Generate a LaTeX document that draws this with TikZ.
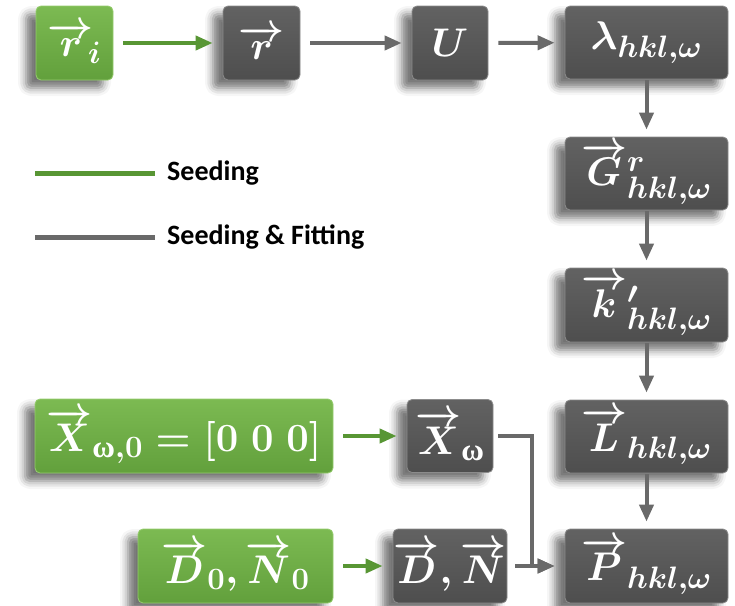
\RequirePackage{fix-cm}
\documentclass[tikz,border=0pt]{standalone}
\usepackage{fontspec}
\usepackage{amsmath}
\DeclareMathSizes{40}{40}{31}{25}
\newfontfamily\legfont{Carlito}
\newfontfamily\grkfont{Liberation Serif}
\usetikzlibrary{arrows.meta,shadows.blur}
\definecolor{gtop}{RGB}{124,186,82}
\definecolor{gbot}{RGB}{98,160,60}
\definecolor{gedge}{RGB}{150,205,110}
\definecolor{dtop}{RGB}{98,98,98}
\definecolor{dbot}{RGB}{78,78,78}
\definecolor{dedge}{RGB}{140,140,140}
\definecolor{arrgreen}{RGB}{88,150,52}
\definecolor{arrgray}{RGB}{105,105,105}
\newcommand{\upom}{\text{\grkfont\bfseries ω}}
\tikzset{
  base/.style={rounded corners=5pt, text=white, inner sep=0pt, line width=0.8pt,
    font=\fontsize{40}{44}\selectfont\boldmath,
    blur shadow={shadow xshift=-10pt, shadow yshift=-8pt, shadow blur radius=8pt, shadow opacity=55}},
  gbox/.style={base, draw=gedge, top color=gtop, bottom color=gbot},
  dbox/.style={base, draw=dedge, top color=dtop, bottom color=dbot},
  garrow/.style={line width=4pt, draw=arrgreen, -{Triangle[length=17pt,width=14pt]}},
  darrow/.style={line width=4pt, draw=arrgray, -{Triangle[length=17pt,width=14pt]}},
  hgap/.style={shorten <=10pt, shorten >=10pt},
  vgap/.style={shorten <=1pt, shorten >=7pt},
  legline/.style={line width=5pt},
  legtext/.style={anchor=west, inner sep=0pt, font=\legfont\bfseries\fontsize{28}{30}\selectfont}
}
\begin{document}
\begin{tikzpicture}[x=1pt, y=-1pt]
\useasboundingbox (0,0) rectangle (735,605);
% top row
\node[gbox, minimum width=77pt, minimum height=74pt] (ri) at (74.5,43) {$\overrightarrow{r}_{\!i}$};
\node[dbox, minimum width=77pt, minimum height=74pt] (r) at (261.5,43) {$\overrightarrow{r}$};
\node[dbox, minimum width=76pt, minimum height=74pt] (U) at (450,43) {$U$};
\node[dbox, minimum width=163pt, minimum height=73pt] (lam) at (646.5,42.5) {$\lambda_{hkl,\omega}$};
% right column
\node[dbox, minimum width=163pt, minimum height=73pt] (G) at (646.5,173.5) {$\overrightarrow{G}^{r}_{hkl,\omega}$};
\node[dbox, minimum width=163pt, minimum height=74pt] (k) at (646.5,305) {$\overrightarrow{k}'_{hkl,\omega}$};
\node[dbox, minimum width=163pt, minimum height=73pt] (L) at (646.5,436.5) {$\overrightarrow{L}_{hkl,\omega}$};
\node[dbox, minimum width=163pt, minimum height=74pt] (P) at (646.5,566) {$\overrightarrow{P}_{hkl,\omega}$};
% bottom left
\node[gbox, minimum width=298pt, minimum height=74pt] (X0) at (184,436) {$\overrightarrow{X}_{\upom,\mathbf{0}}=[\mathbf{0}\;\mathbf{0}\;\mathbf{0}]$};
\node[dbox, minimum width=86pt, minimum height=73pt] (Xw) at (450,436) {$\overrightarrow{X}_{\upom}$};
\node[gbox, minimum width=195pt, minimum height=74pt] (D0) at (235.5,566) {$\overrightarrow{D}_{\mathbf{0}},\overrightarrow{N}_{\mathbf{0}}$};
\node[dbox, minimum width=114pt, minimum height=74pt] (DN) at (450,566) {$\overrightarrow{D},\overrightarrow{N}$};
% connectors
\draw[garrow, hgap] (ri) -- (r);
\draw[darrow, hgap] (r) -- (U);
\draw[darrow, hgap] (U) -- (lam);
\draw[darrow, vgap] (lam) -- (G);
\draw[darrow, vgap] (G) -- (k);
\draw[darrow, vgap] (k) -- (L);
\draw[darrow, vgap] (L) -- (P);
\draw[garrow, hgap] (X0) -- (Xw);
\draw[garrow, hgap] (D0) -- (DN);
\draw[darrow, shorten <=8pt, shorten >=10pt] (DN) -- (P);
\coordinate (bend) at (532,436);
\draw[darrow, shorten <=5pt, shorten >=10pt, line join=miter] (Xw.east) -- (bend) |- (P.west);
% legend
\coordinate (g1) at (35,173); \coordinate (g2) at (155,173);
\coordinate (d1) at (35,237); \coordinate (d2) at (155,237);
\draw[legline, arrgreen] (g1) -- (g2);
\draw[legline, arrgray] (d1) -- (d2);
\node[legtext] (seed) at (167,173) {Seeding};
\node[legtext] (seedfit) at (167,237) {Seeding \& Fitting};
\end{tikzpicture}
\end{document}
